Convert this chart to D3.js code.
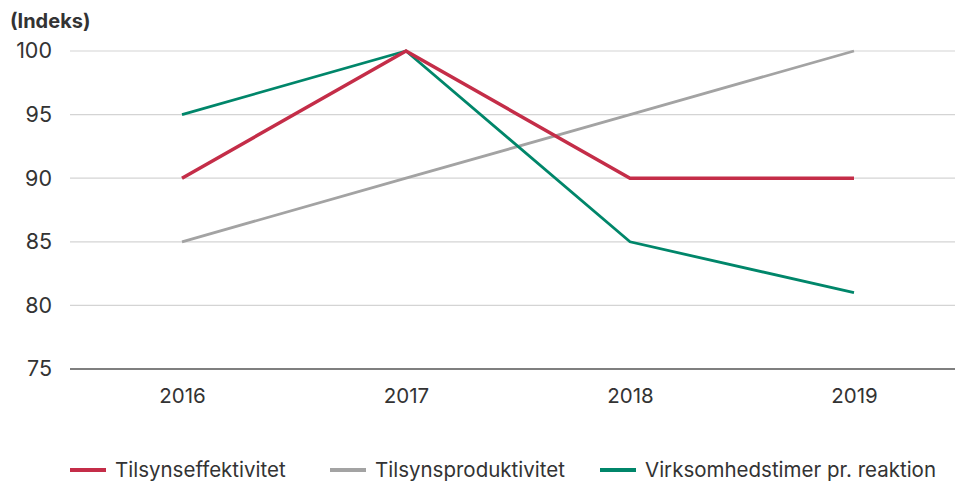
<!DOCTYPE html>
<html><head><meta charset="utf-8">
<script src="https://cdn.jsdelivr.net/npm/d3@7"></script>
<style>body{margin:0;background:#fff;}svg{display:block;font-family:Inter,"Open Sans",sans-serif;}</style>
</head><body><svg id="c" width="955" height="484"></svg>
<script>
const years = ["2016","2017","2018","2019"];
const seriesNames = ["Tilsynseffektivitet","Tilsynsproduktivitet","Virksomhedstimer pr. reaktion"];
const effektivitet = [90,100,90,90];
const produktivitet = [85,90,95,100];
const virksomhed = [95,100,85,81];
const yTicks = [75,80,85,90,95,100];
const colors = ["#c42d48","#a3a3a3","#00866a"];
const widths = [3.5,2.8,2.8];

const svg = d3.select("#c");
const x = d3.scalePoint().domain(years).range([70,966]).padding(0.5);
const y = d3.scaleLinear().domain([75,100]).range([369,51]);

// grid
svg.append("g").selectAll("line").data(yTicks.filter(d=>d!==75)).join("line")
  .attr("x1",70).attr("x2",955).attr("y1",d=>y(d)).attr("y2",d=>y(d))
  .attr("stroke","#d4d4d4").attr("stroke-width",1.2);
svg.append("line").attr("x1",70).attr("x2",955).attr("y1",y(75)).attr("y2",y(75))
  .attr("stroke","#555").attr("stroke-width",1.5);

// y labels
const yAxis = d3.axisLeft(y).tickValues(yTicks).tickSize(0).tickPadding(0);
const yg = svg.append("g").attr("transform","translate(52,0)").call(yAxis);
yg.select(".domain").remove();
yg.selectAll("text").attr("font-size",21.5).attr("fill","#333").attr("font-family","Inter,sans-serif");

// x labels
const xAxis = d3.axisBottom(x).tickSize(0).tickPadding(0);
const xg = svg.append("g").attr("transform","translate(0,388)").call(xAxis);
xg.select(".domain").remove();
xg.selectAll("text").attr("font-size",20.5).attr("fill","#333").attr("font-family","Inter,sans-serif");

svg.append("text").attr("x",10).attr("y",28).attr("font-size",20).attr("font-weight","bold").attr("fill","#333").text("(Indeks)");

const data = [effektivitet, produktivitet, virksomhed];
const line = d3.line().x((d,i)=>x(years[i])).y(d=>y(d));
[1,2,0].forEach(k=>{
  svg.append("path").datum(data[k]).attr("d",line).attr("fill","none")
    .attr("stroke",colors[k]).attr("stroke-width",widths[k]).attr("stroke-linejoin","miter");
});

// legend
const legX = [70,330,600];
seriesNames.forEach((n,i)=>{
  const g = svg.append("g").attr("transform",`translate(${legX[i]},470)`);
  g.append("line").attr("x1",0).attr("x2",36).attr("stroke",colors[i]).attr("stroke-width",4);
  g.append("text").attr("x",45).attr("y",7).attr("font-size",20.5).attr("fill","#333").text(n);
});
</script></body></html>
